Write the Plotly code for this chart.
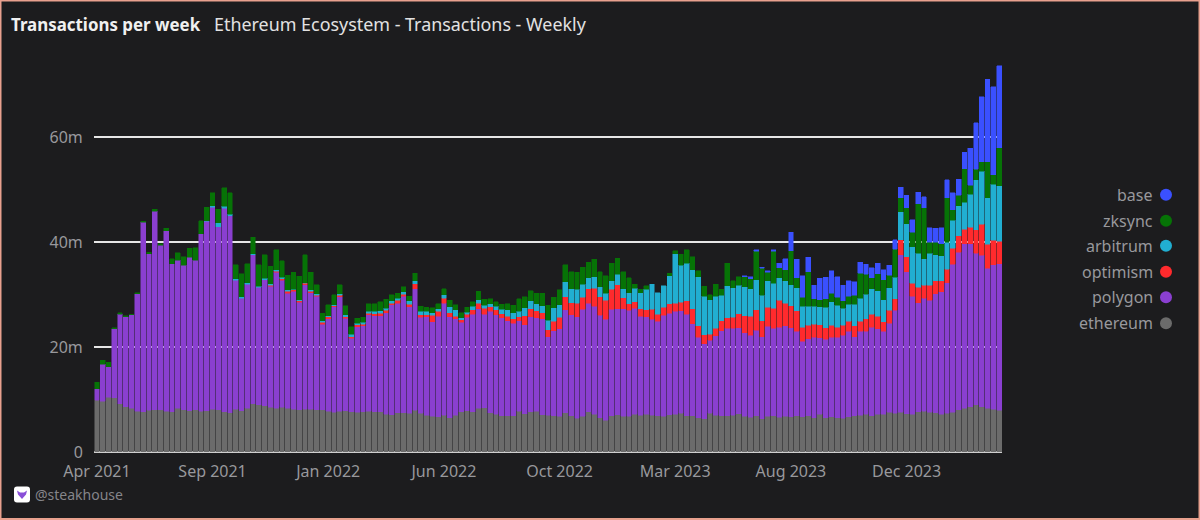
"""Weekly transactions per chain, stacked - dark dashboard style."""
import pandas as pd
import plotly.graph_objects as go

FONT = "Noto Sans, sans-serif"
BG = "#1c1c1e"
GREY = "#98989c"

# plot area in page pixels
LEFT, RIGHT, TOP, BOTTOM = 94, 1002, 64, 452.5

weeks = pd.date_range("2021-04-19", periods=157, freq="7D")
y_ticks = [0, 20, 40, 60]
y_labels = ["0", "20m", "40m", "60m"]

# millions of transactions
ethereum = [
    9.9, 9.7, 10.4, 10.3, 9.2, 8.6, 8.3, 7.8, 7.7, 8.0,
    8.1, 8.1, 7.8, 7.7, 8.3, 8.1, 7.9, 8.1, 7.8, 7.9,
    8.2, 8.1, 7.7, 7.5, 8.2, 7.9, 8.3, 9.2, 9.0, 8.8,
    8.5, 8.3, 8.5, 8.3, 8.2, 8.1, 8.2, 8.2, 8.1, 8.1,
    7.8, 7.6, 7.8, 7.9, 7.7, 7.6, 7.7, 7.8, 7.7, 7.7,
    7.2, 7.1, 7.5, 7.5, 7.4, 8.0, 7.4, 7.0, 6.8, 6.7,
    7.0, 6.5, 7.0, 7.7, 7.9, 7.7, 8.3, 8.4, 7.5, 7.2,
    6.9, 6.9, 6.9, 7.8, 7.3, 7.7, 7.8, 7.1, 7.0, 6.9,
    6.8, 7.5, 6.9, 6.4, 6.8, 7.7, 7.2, 6.5, 6.1, 6.9,
    7.1, 6.8, 6.8, 7.2, 7.0, 7.2, 7.0, 6.9, 6.8, 7.1,
    7.2, 7.4, 6.9, 6.9, 6.5, 6.3, 7.4, 7.0, 6.9, 6.9,
    7.0, 7.3, 6.8, 6.6, 6.9, 6.3, 6.8, 6.9, 6.6, 6.8,
    6.7, 6.9, 6.7, 6.9, 6.5, 7.2, 6.5, 6.7, 6.5, 6.4,
    6.7, 6.9, 7.0, 7.2, 6.9, 7.2, 7.2, 7.6, 7.4, 7.6,
    7.3, 7.2, 7.7, 7.8, 7.6, 7.5, 7.2, 7.4, 7.6, 8.1,
    8.3, 8.6, 9.0, 8.6, 8.3, 8.2, 8.0,
]
polygon = [
    2.2, 7.0, 5.9, 13.2, 17.1, 17.2, 17.9, 22.4, 36.1, 29.8,
    37.8, 31.3, 34.4, 28.2, 28.3, 27.5, 29.2, 28.5, 33.8, 36.1,
    38.5, 34.9, 38.8, 37.6, 24.6, 21.4, 23.7, 28.4, 22.4, 24.1,
    23.1, 26.0, 24.3, 22.0, 22.5, 20.5, 23.7, 22.2, 21.6, 16.3,
    17.6, 20.1, 21.8, 17.6, 14.0, 16.3, 16.4, 18.4, 18.3, 18.3,
    19.4, 21.0, 20.9, 22.2, 20.3, 23.1, 18.3, 18.8, 18.0, 19.2,
    21.4, 19.3, 18.4, 17.0, 17.8, 18.6, 19.0, 17.9, 19.3, 19.0,
    18.7, 18.1, 17.7, 17.2, 17.0, 18.1, 17.8, 18.3, 15.0, 16.2,
    16.7, 19.6, 19.3, 19.4, 20.4, 20.7, 20.6, 19.6, 19.2, 20.3,
    20.2, 20.5, 20.2, 20.2, 18.9, 18.6, 18.3, 18.0, 19.3, 19.4,
    19.6, 19.5, 19.4, 17.6, 15.4, 14.3, 13.9, 15.2, 16.2, 16.7,
    16.6, 16.4, 15.9, 15.7, 16.3, 15.7, 17.2, 16.7, 17.2, 17.3,
    17.0, 16.1, 14.4, 14.7, 15.4, 14.6, 15.0, 15.2, 15.4, 15.9,
    16.3, 15.1, 16.0, 15.8, 16.9, 16.3, 15.8, 17.0, 19.6, 30.0,
    27.1, 22.5, 20.8, 21.5, 21.3, 22.7, 23.4, 24.9, 28.2, 30.0,
    31.4, 31.1, 28.9, 28.9, 26.7, 27.5, 27.9,
]
optimism = [
    0, 0, 0, 0, 0, 0, 0, 0, 0, 0,
    0, 0, 0, 0, 0, 0, 0, 0, 0, 0,
    0, 0, 0, 0, 0, 0, 0, 0, 0, 0,
    0.2, 0.2, 0.2, 0.4, 0.2, 0.2, 0.3, 0.3, 0.2, 0.3,
    0.4, 0.2, 0.3, 0.3, 0.3, 0.4, 0.3, 0.3, 0.4, 0.5,
    0.4, 0.3, 0.5, 0.4, 0.5, 1.0, 0.5, 0.4, 1.3, 0.9,
    0.9, 0.8, 0.5, 0.5, 0.6, 0.8, 1.1, 1.1, 0.9, 0.9,
    0.8, 0.9, 0.8, 0.8, 1.7, 1.5, 1.3, 1.2, 1.3, 1.8,
    2.2, 2.5, 2.3, 2.6, 2.3, 2.7, 3.4, 3.5, 3.6, 3.8,
    4.6, 2.1, 1.3, 1.3, 1.4, 1.3, 1.9, 1.4, 1.5, 1.8,
    1.6, 1.7, 2.5, 2.8, 2.2, 1.8, 1.2, 1.4, 1.9, 2.0,
    2.1, 2.7, 3.3, 3.6, 3.9, 3.0, 3.6, 3.8, 5.1, 4.3,
    4.2, 3.9, 2.7, 2.6, 2.5, 2.5, 2.2, 2.3, 1.9, 1.9,
    1.9, 2.1, 1.9, 2.4, 2.5, 2.4, 1.8, 2.4, 2.2, 2.9,
    2.8, 2.5, 2.9, 2.5, 2.9, 2.5, 2.1, 2.6, 3.1, 3.1,
    2.8, 3.2, 4.5, 5.9, 4.6, 4.7, 4.3,
]
arbitrum = [
    0, 0, 0, 0, 0, 0, 0, 0, 0, 0,
    0, 0, 0, 0, 0, 0, 0, 0, 0, 0.1,
    0.3, 0.7, 0.4, 0.2, 0.2, 0.3, 0.3, 0.2, 0.2, 0.2,
    0.3, 0.3, 0.3, 0.2, 0.1, 0.2, 0.1, 0.2, 0.3, 0.3,
    0.2, 0.2, 0.3, 0.4, 0.5, 0.3, 0.3, 0.3, 0.4, 0.4,
    0.4, 0.4, 0.4, 0.5, 0.6, 0.6, 0.6, 0.6, 0.5, 0.5,
    0.7, 1.1, 1.2, 0.4, 0.4, 0.7, 0.6, 0.6, 0.6, 0.7,
    0.8, 1.2, 1.2, 1.0, 1.5, 1.5, 1.4, 1.3, 1.8, 2.6,
    2.4, 2.9, 2.6, 2.6, 2.5, 2.1, 2.2, 1.9, 1.4, 1.7,
    2.0, 1.7, 2.1, 2.5, 3.1, 3.9, 4.8, 4.1, 4.1, 5.3,
    9.4, 7.0, 7.2, 7.5, 9.3, 7.3, 6.5, 6.1, 4.9, 6.1,
    5.6, 5.4, 5.5, 5.2, 5.8, 4.9, 5.1, 4.8, 4.3, 4.3,
    4.0, 4.4, 4.0, 3.6, 3.4, 3.4, 3.9, 4.5, 4.2, 3.2,
    3.3, 4.1, 4.4, 4.7, 4.8, 4.9, 4.2, 4.3, 4.1, 5.3,
    6.3, 6.9, 6.5, 5.1, 6.1, 4.9, 4.7, 5.1, 5.3, 5.8,
    5.1, 6.3, 9.5, 10.1, 8.9, 10.7, 10.6,
]
zksync = [
    1.2, 0.8, 0.8, 0.2, 0.3, 0.2, 0.1, 0.2, 0.2, 0.3,
    0.4, 0.3, 0.5, 1.0, 1.4, 1.6, 1.8, 2.4, 2.5, 2.6,
    2.4, 2.6, 3.5, 4.1, 2.7, 4.4, 3.6, 3.2, 4.1, 4.5,
    3.3, 3.8, 3.2, 2.8, 3.3, 4.5, 5.3, 3.4, 1.7, 1.5,
    2.1, 1.9, 1.7, 1.7, 1.4, 0.9, 1.0, 1.5, 1.5, 1.8,
    1.7, 1.2, 1.0, 0.9, 0.9, 1.4, 1.0, 0.8, 0.9, 1.0,
    1.1, 1.2, 1.0, 1.0, 0.9, 0.9, 1.7, 1.1, 0.9, 0.9,
    1.0, 1.2, 1.4, 2.4, 2.1, 2.0, 2.0, 2.4, 2.9, 2.0,
    2.8, 3.2, 3.3, 3.3, 3.2, 3.0, 3.4, 2.9, 3.3, 3.3,
    3.1, 3.3, 2.8, 0.8, 0.6, 0.7, 0, 0, 0, 0.5,
    0.6, 2.1, 2.6, 2.4, 1.2, 1.9, 1.0, 2.3, 1.1, 4.3,
    1.4, 1.6, 1.9, 1.9, 5.4, 5.1, 1.6, 6.1, 1.9, 2.1,
    6.5, 1.9, 1.7, 6.6, 1.4, 1.3, 1.6, 1.6, 1.5, 1.4,
    1.5, 1.7, 4.8, 3.8, 2.1, 3.2, 3.9, 2.4, 5.4, 2.7,
    3.1, 2.8, 9.4, 9.7, 2.1, 2.4, 2.3, 8.5, 2.0, 2.0,
    6.4, 1.7, 2.0, 1.9, 6.9, 1.8, 7.2,
]
base = [0] * 112 + [
    0.2, 0.4, 0.3, 0.2, 0.3, 0.3, 0.9, 2.1,
    3.5, 3.6, 4.1, 2.7, 2.6, 4.1, 4.1, 4.3, 3.9, 3.0,
    3.0, 2.6, 2.1, 1.9, 1.9, 2.0, 1.9, 1.9, 1.8, 2.0,
    2.4, 2.4, 2.2, 2.1, 2.8, 2.7, 3.1, 3.4, 3.2, 3.0,
    3.2, 7.0, 8.9, 12.4, 15.7, 16.8, 15.7,
]

# bottom of the stack first
series = [
    ("ethereum", ethereum, "#6b6b6b"),
    ("polygon", polygon, "#8a3fd0"),
    ("optimism", optimism, "#ff2a2d"),
    ("arbitrum", arbitrum, "#21aed1"),
    ("zksync", zksync, "#067306"),
    ("base", base, "#3a50ff"),
]
legend_y = [323.5, 297.5, 272, 246, 221, 195]


def px_x(x):
    return (x - LEFT) / (RIGHT - LEFT)


def px_y(y):
    return (BOTTOM - y) / (BOTTOM - TOP)


def label(text, x, y, size, color, anchor="left", weight=400):
    fig.add_annotation(
        text=text, x=px_x(x), y=px_y(y), xref="paper", yref="paper",
        xanchor=anchor, yanchor="middle", showarrow=False,
        font=dict(family=FONT, size=size, color=color, weight=weight),
    )


fig = go.Figure()
for name, values, color in series:
    # empty weeks stay None, otherwise the outline draws a sliver for them
    fig.add_trace(go.Bar(x=weeks, y=[v or None for v in values], name=name,
                         marker=dict(color=color, line=dict(color=color, width=0.5))))

half_week = pd.Timedelta(days=3.5)
fig.update_layout(
    barmode="stack", bargap=0.173, showlegend=False,
    width=1200, height=520,
    margin=dict(l=LEFT, r=1200 - RIGHT, t=TOP, b=520 - BOTTOM, pad=0),
    paper_bgcolor=BG, plot_bgcolor=BG,
    font=dict(family=FONT, size=16, color=GREY),
)
fig.update_xaxes(
    range=[weeks[0] - half_week, weeks[-1] + half_week],
    tickvals=weeks[::20], tickformat="%b %Y", showgrid=False, zeroline=False,
    ticks="outside", ticklen=5, tickcolor=BG, showline=False,
)
fig.update_yaxes(
    range=[0, (BOTTOM - TOP) / 5.25], tickvals=y_ticks, ticktext=y_labels,
    showgrid=True, gridcolor="#e6e6e6", gridwidth=2,
    zeroline=True, zerolinecolor="#cfcfcf", zerolinewidth=2,
    ticks="outside", ticklen=7, tickcolor=BG,
)

# header and footer
label("Transactions per week", 9, 24, 16.9, "#f0f0f0", weight=700)
label("Ethereum Ecosystem - Transactions - Weekly", 212, 24, 17.9, "#e2e2e2")
label("@steakhouse", 33, 495, 14, "#85858a")

# legend: right-aligned names with the dot after them
for (name, values, color), y in zip(series, legend_y):
    label(name, 1155, y, 16, GREY, anchor="right")
    fig.add_shape(
        type="circle", xref="paper", yref="paper", line_width=0, fillcolor=color,
        x0=px_x(1160), x1=px_x(1172), y0=px_y(y + 6), y1=px_y(y - 6),
    )

# logo tile, rounded corners
x0, x1, y0, y1 = px_x(14), px_x(30), px_y(503), px_y(487)
rx, ry = px_x(17) - px_x(14), px_y(487) - px_y(490)
fig.add_shape(
    type="path", xref="paper", yref="paper", fillcolor="#ffffff", line_width=0,
    path=(f"M {x0 + rx} {y0} L {x1 - rx} {y0} Q {x1} {y0} {x1} {y0 + ry} "
          f"L {x1} {y1 - ry} Q {x1} {y1} {x1 - rx} {y1} L {x0 + rx} {y1} "
          f"Q {x0} {y1} {x0} {y1 - ry} L {x0} {y0 + ry} Q {x0} {y0} {x0 + rx} {y0} Z"),
)
fig.add_shape(
    type="path", xref="paper", yref="paper", fillcolor="#8a4fd8", line_width=0,
    path=(f"M {px_x(17)} {px_y(491)} L {px_x(20)} {px_y(493)} L {px_x(24)} {px_y(493)} "
          f"L {px_x(27)} {px_y(491)} L {px_x(26)} {px_y(495)} L {px_x(22)} {px_y(499.5)} "
          f"L {px_x(18)} {px_y(495)} Z"),
)

# thin salmon frame round the page
fig.add_shape(
    type="rect", xref="paper", yref="paper", fillcolor="rgba(0,0,0,0)",
    line=dict(color="#e8a08e", width=2),
    x0=px_x(0.5), x1=px_x(1199.5), y0=px_y(519.5), y1=px_y(0.5),
)

fig.write_html("out.html", config=dict(displayModeBar=False),
               post_script="document.body.style.margin='0';")
